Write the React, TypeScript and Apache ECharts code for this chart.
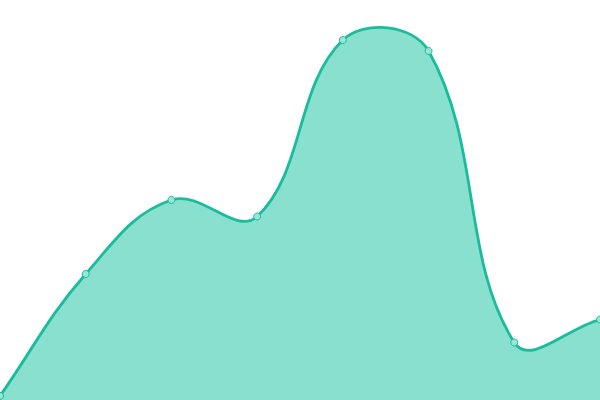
import * as echarts from "echarts";
import { useEffect, useRef } from "react";

const categories = ["A", "B", "C", "D", "E", "F", "G", "H"];
const values = [4, 126, 200, 183.5, 360, 349, 57.5, 80.5];

const TENSION = 0.4;
const LINE = "#1abc9c";
const AREA = "#89e0cf";

// cardinal spline like the reference (overshoots at the peaks)
function splinePath(pts: number[][]) {
  const n = pts.length;
  const cps = pts.map((p, i) => {
    const prev = pts[Math.max(i - 1, 0)];
    const next = pts[Math.min(i + 1, n - 1)];
    const d01 = Math.hypot(p[0] - prev[0], p[1] - prev[1]);
    const d12 = Math.hypot(next[0] - p[0], next[1] - p[1]);
    const sum = d01 + d12 || 1;
    const fa = (TENSION * d01) / sum;
    const fb = (TENSION * d12) / sum;
    const vx = next[0] - prev[0];
    const vy = next[1] - prev[1];
    return {
      prev: [p[0] - fa * vx, p[1] - fa * vy],
      next: [p[0] + fb * vx, p[1] + fb * vy]
    };
  });
  let d = `M${pts[0][0]},${pts[0][1]}`;
  for (let i = 1; i < n; i++) {
    const a = cps[i - 1].next;
    const b = cps[i].prev;
    d += ` C${a[0]},${a[1]} ${b[0]},${b[1]} ${pts[i][0]},${pts[i][1]}`;
  }
  return d;
}

export default function App() {
  const ref = useRef<HTMLDivElement | null>(null);

  useEffect(() => {
    if (!ref.current) {
      return;
    }

    const chart = echarts.init(ref.current, undefined, { renderer: "svg" });
    chart.setOption({
      animation: false,
      grid: { left: 0, right: 0, top: 0, bottom: 0 },
      xAxis: {
        type: "category",
        data: categories,
        boundaryGap: false,
        show: false
      },
      yAxis: { type: "value", min: 0, max: 400, show: false },
      series: [
        {
          type: "custom",
          data: values.map((v, i) => [i, v]),
          encode: { x: 0, y: 1 },
          clip: false,
          silent: true,
          renderItem: (params: any, api: any) => {
            if (params.dataIndex !== 0) {
              return null;
            }
            const pts = values.map((v, i) => api.coord([i, v]));
            const base = api.coord([0, 0])[1];
            const line = splinePath(pts);
            const last = pts[pts.length - 1];
            const area = `${line} L${last[0]},${base} L${pts[0][0]},${base} Z`;
            return {
              type: "group",
              children: [
                { type: "path", shape: { pathData: area }, style: { fill: AREA, stroke: null } },
                {
                  type: "path",
                  shape: { pathData: line },
                  style: { fill: null, stroke: LINE, lineWidth: 2.8 }
                }
              ]
            };
          }
        },
        {
          type: "line",
          data: values,
          z: 5,
          symbol: "circle",
          symbolSize: 7,
          itemStyle: { color: "#9ae5d6", borderColor: LINE, borderWidth: 1 },
          lineStyle: { width: 0, opacity: 0 }
        }
      ]
    });

    return () => {
      chart.dispose();
    };
  }, []);

  return (
    <div
      ref={ref}
      style={{ position: "fixed", left: 0, top: 0, width: 600, height: 400 }}
    />
  );
}
